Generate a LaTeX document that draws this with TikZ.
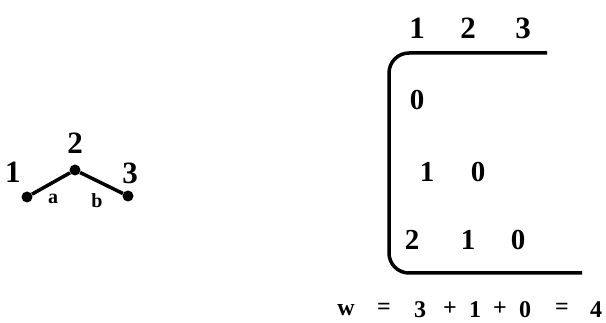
\documentclass[tikz,border=0pt]{standalone}
\usepackage{fontspec}
\setmainfont{Liberation Serif}
\begin{document}
\begin{tikzpicture}[x=1pt,y=-1pt,
  big/.style={font=\fontsize{31}{32}\selectfont\bfseries, inner sep=0pt},
  ent/.style={font=\fontsize{29}{30}\selectfont\bfseries, inner sep=0pt},
  sml/.style={font=\fontsize{20}{21}\selectfont\bfseries, inner sep=0pt},
  eq/.style={font=\fontsize{24}{26}\selectfont\bfseries, inner sep=0pt},
  dot/.style={circle, fill=black, inner sep=0pt, minimum size=11pt},
  edge/.style={line width=3.5pt},
  bracket/.style={line width=3.5pt, rounded corners=20pt}]
\useasboundingbox (0,0) rectangle (606,323);
% left graph
\node[dot] (v1) at (27,197) {};
\node[dot] (v2) at (75,170) {};
\node[dot] (v3) at (128,196) {};
\draw[edge] (v1) -- (v2) -- (v3);
\node[big] (l1) at (13,172) {1};
\node[big] (l2) at (75,143) {2};
\node[big] (l3) at (130,173) {3};
\node[sml] (la) at (53,199) {a};
\node[sml] (lb) at (97,201) {b};
% matrix
\node[big] (c1) at (417,28) {1};
\node[big] (c2) at (468,28) {2};
\node[big] (c3) at (523,28) {3};
\coordinate (tr) at (547,53);
\coordinate (br) at (582,273);
\draw[bracket] (tr) -- (389,53) -- (389,273) -- (br);
\node[ent] (m11) at (417,100) {0};
\node[ent] (m21) at (427,172) {1};
\node[ent] (m22) at (478,172) {0};
\node[ent] (m31) at (412,240) {2};
\node[ent] (m32) at (468,240) {1};
\node[ent] (m33) at (518,240) {0};
% equation
\node[eq] (e1) at (346,310) {w};
\node[eq] (e2) at (384,309) {=};
\node[eq] (e3) at (420,310) {3};
\node[eq] (e4) at (450,309) {+};
\node[eq] (e5) at (475,310) {1};
\node[eq] (e6) at (500,309) {+};
\node[eq] (e7) at (525,310) {0};
\node[eq] (e8) at (562,309) {=};
\node[eq] (e9) at (596,310) {4};
\end{tikzpicture}
\end{document}
